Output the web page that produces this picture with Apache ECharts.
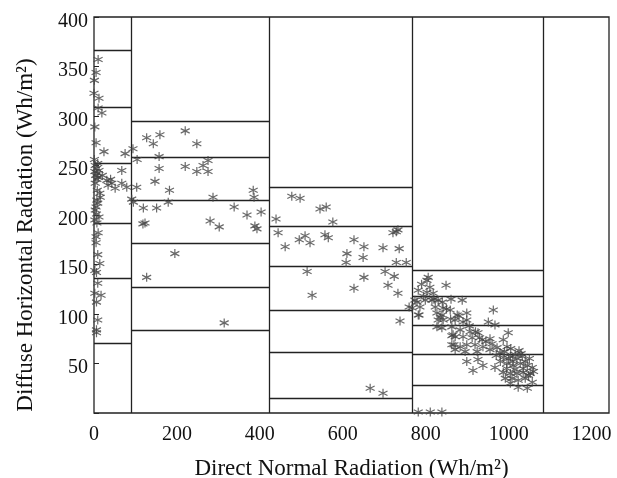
<!DOCTYPE html>
<html>
<head>
<meta charset="utf-8">
<script src="https://cdn.jsdelivr.net/npm/echarts@6/dist/echarts.min.js"></script>
<style>
  html, body { margin: 0; padding: 0; background: #fff; }
  #chart { width: 617px; height: 478px; }
</style>
</head>
<body>
<div id="chart"></div>
<script>
// axis ticks
var xTicks = [0, 200, 400, 600, 800, 1000, 1200];
var yTicks = [50, 100, 150, 200, 250, 300, 350, 400];

// bin boundaries (direct normal radiation) and the level lines drawn inside each bin
var binEdges = [0, 90, 422, 767, 1083];
var binLevels = [
    [366, 309, 252, 192, 136, 70],
    [295, 258, 215, 171, 127, 84],
    [228, 189, 148, 104, 61, 15],
    [144, 118, 89, 59, 28]
];

// measured points [direct normal, diffuse horizontal]
var pointsBin1 = [
    [10,357],[5,344],[1,336],[0,323],[12,318],[10,308],[19,303],[2,289],[5,273],[24,264],
    [1,256],[9,252],[3,250],[6,247],[2,244],[8,242],[4,240],[10,238],[12,245],[7,236],
    [3,232],[20,240],[34,230],[43,232],[51,227],[31,235],[40,236],[67,232],[79,228],[67,245],
    [75,262],[14,222],[8,225],[15,218],[7,215],[5,208],[9,212],[3,205],[12,198],[2,195],
    [6,201],[7,192],[10,182],[5,178],[5,172],[9,160],[14,151],[2,144],[6,142],[9,131],
    [2,121],[17,119],[6,112],[9,94],[6,84],[6,81]
];
var pointsBin2 = [
    [94,267],[104,256],[127,278],[143,272],[159,281],[220,285],[248,272],[157,259],[157,247],[220,249],
    [248,244],[263,250],[275,255],[275,244],[147,234],[182,225],[179,213],[151,207],[119,207],[103,228],
    [91,216],[95,213],[123,192],[118,191],[384,225],[386,218],[287,218],[338,208],[369,200],[403,203],
    [280,194],[302,188],[388,189],[393,186],[195,161],[127,137],[314,91]
];
var pointsBin3 = [
    [477,219],[497,217],[545,206],[560,208],[576,193],[439,196],[444,182],[461,168],[495,175],[509,179],
    [521,172],[557,180],[565,177],[627,175],[651,168],[610,161],[608,152],[649,157],[697,167],[736,166],
    [721,182],[729,183],[733,185],[729,152],[753,152],[514,143],[702,143],[724,138],[651,137],[709,129],
    [627,126],[733,121],[526,119],[738,93],[666,25],[697,20],[760,107]
];
var pointsBin4 = [
    [806,137],[803,134],[849,129],[782,124],[803,122],[818,121],[774,114],[799,114],[815,114],[830,114],
    [861,115],[888,114],[767,106],[786,107],[823,107],[842,106],[859,104],[782,99],[827,101],[839,99],
    [876,99],[899,101],[963,104],[830,94],[842,94],[871,94],[899,94],[951,92],[967,89],[827,87],
    [839,86],[863,87],[883,84],[907,82],[926,81],[999,81],[863,78],[871,77],[890,77],[912,76],
    [936,74],[955,75],[987,74],[863,69],[883,67],[899,69],[919,69],[938,67],[955,64],[972,66],
    [996,67],[871,64],[895,62],[924,62],[979,61],[987,56],[1004,57],[1016,59],[1033,57],[899,52],
    [926,54],[938,48],[967,46],[996,50],[1011,48],[1028,50],[1045,48],[1057,46],[914,43],[987,41],
    [1004,40],[1020,40],[1035,41],[1052,40],[992,35],[1008,35],[1023,33],[1040,35],[1057,31],[1023,26],
    [1045,25],[1004,30],[1000,55],[1010,52],[1020,55],[1030,60],[1040,52],[1050,55],[995,45],[1015,44],
    [1035,45],[1048,38],[1060,42],[990,62],[1005,65],[1025,63],[980,52],[970,58],[960,70],[945,72],
    [930,76],[920,82],[905,88],[890,92],[880,98],[860,95],[850,105],[840,112],[820,115],[810,127],
    [795,118],[790,130],[779,112],[784,99],[835,97],[866,79],[868,69],[782,1],[811,1],[839,1]
];

var serif = '"Liberation Serif", "Times New Roman", serif';
var xMax = 1242;

// build line segments for the bin grid
var segs = [];
for (var i = 1; i < binEdges.length; i++) {
    segs.push({coords: [[binEdges[i], 0], [binEdges[i], 400]]});
}
for (var b = 0; b < binLevels.length; b++) {
    for (var k = 0; k < binLevels[b].length; k++) {
        segs.push({coords: [[binEdges[b], binLevels[b][k]], [binEdges[b + 1], binLevels[b][k]]]});
    }
}

var allPoints = pointsBin1.concat(pointsBin2, pointsBin3, pointsBin4);

var chart = echarts.init(document.getElementById('chart'));
var option = {
    animation: false,
    grid: {
        left: 94, right: 8, top: 17, bottom: 65,
        outerBoundsMode: 'none',
        show: true,
        borderColor: '#222',
        borderWidth: 1.3
    },
    xAxis: {
        type: 'value',
        min: 0,
        max: xMax,
        interval: 200,
        name: 'Direct Normal Radiation (Wh/m\u00b2)',
        nameLocation: 'middle',
        nameGap: 44,
        nameTextStyle: {fontFamily: serif, fontSize: 23, color: '#111'},
        axisLine: {show: false},
        axisTick: {show: false},
        splitLine: {show: false},
        axisLabel: {
            fontFamily: serif, fontSize: 20, color: '#111', margin: 12,
            formatter: function(v) { return xTicks.indexOf(v) >= 0 ? String(v) : ''; }
        }
    },
    yAxis: {
        type: 'value',
        min: 0,
        max: 400,
        interval: 50,
        name: 'Diffuse Horizontal Radiation (Wh/m\u00b2)',
        nameLocation: 'middle',
        nameGap: 57,
        nameTextStyle: {fontFamily: serif, fontSize: 23, color: '#111', padding: [0, 40, 0, 0]},
        axisLine: {show: false},
        axisTick: {show: true, inside: true, length: 5, lineStyle: {color: '#222'}},
        splitLine: {show: false},
        axisLabel: {
            fontFamily: serif, fontSize: 20, color: '#111', margin: 6,
            // labels sit a few pixels below their ticks in the original
            formatter: function(v) { return yTicks.indexOf(v) >= 0 ? '{t|' + v + '}' : ''; },
            rich: {
                t: {fontFamily: serif, fontSize: 20, color: '#111', padding: [9, 0, 0, 0]}
            }
        }
    },
    series: [
        {
            type: 'lines',
            coordinateSystem: 'cartesian2d',
            silent: true,
            lineStyle: {color: '#222', width: 1.3, opacity: 1},
            data: segs
        },
        {
            type: 'scatter',
            clip: false,
            symbol: 'path://M5,0L5,10M0.67,2.5L9.33,7.5M0.67,7.5L9.33,2.5',
            symbolSize: 9,
            itemStyle: {color: 'none', borderColor: '#444', borderWidth: 1.2},
            data: allPoints
        }
    ]
};
chart.setOption(option);
</script>
</body>
</html>
